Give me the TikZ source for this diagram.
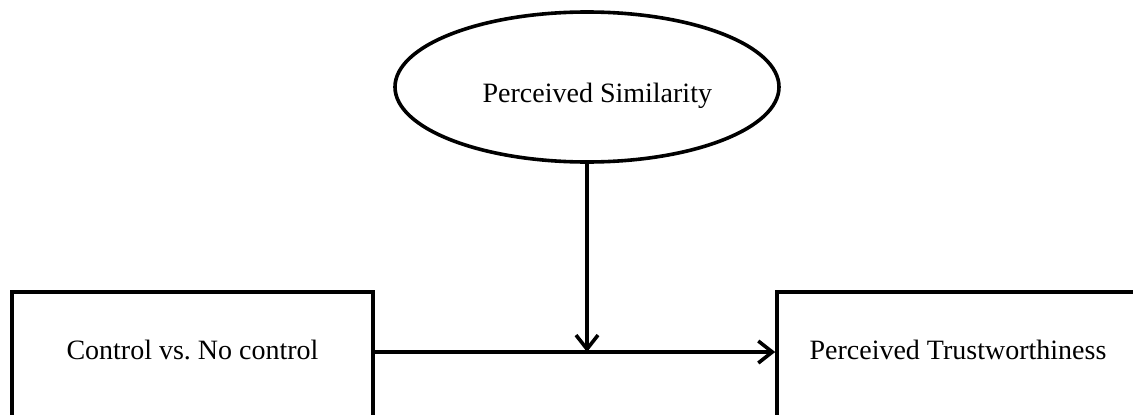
\documentclass[tikz,border=0pt]{standalone}
\usepackage{fontspec}
\setmainfont{Liberation Serif}
\usetikzlibrary{shapes.geometric,arrows.meta}
\frenchspacing
\tikzset{
  boxnode/.style={draw, line width=3.6pt, anchor=north, minimum height=140pt, inner sep=0pt,
    text height=20pt, text depth=24pt, font=\fontsize{28pt}{34pt}\selectfont},
  ellnode/.style={draw, ellipse, line width=3.6pt, minimum width=384pt, minimum height=150pt, inner sep=0pt,
    text width=250pt, align=flush right, text height=30pt, text depth=0pt, font=\fontsize{28pt}{34pt}\selectfont},
  conn/.style={line width=3.6pt, -{Straight Barb[length=14pt,width=22pt,line width=3.6pt]}}
}
\begin{document}
\begin{tikzpicture}[x=1pt,y=1pt]
\useasboundingbox (0,0) rectangle (1133,-415);
\clip (0,0) rectangle (1133,-415);
\fill[white] (0,0) rectangle (1133,-415);
\node[boxnode, minimum width=361pt] (L) at (192.5,-290) {Control vs. No control};
\node[boxnode, minimum width=362pt] (R) at (958,-290) {Perceived Trustworthiness};
\node[ellnode] (E) at (587,-87) {Perceived Similarity};
\coordinate (j) at (587,-352);
\draw[conn] (E.south) -- (j);
\draw[conn] (L.east |- j) -- (R.west |- j);
\end{tikzpicture}
\end{document}
